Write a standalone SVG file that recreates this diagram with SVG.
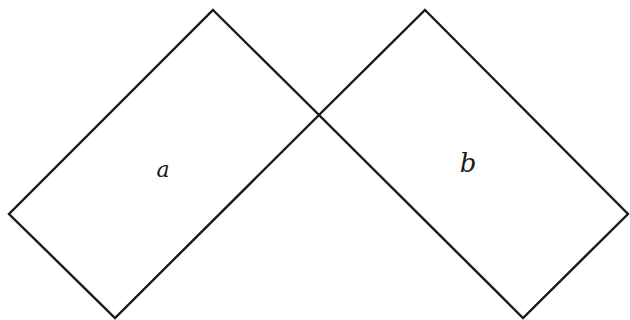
<svg xmlns="http://www.w3.org/2000/svg" width="630" height="320" viewBox="0 0 630 320">
<style>
.shape{fill:none;stroke:#1a1a1a;stroke-width:2.4;stroke-linejoin:miter}
.lbl{font-family:"DejaVu Serif","Liberation Serif",serif;font-style:italic;fill:#1a1a1a;text-anchor:middle}
</style>
<rect width="630" height="320" fill="#ffffff"/>
<g id="node-a">
<polygon class="shape" points="213,10 319,115 115,318 9,214"/>
<text class="lbl" x="163" y="177" font-size="22">a</text>
</g>
<g id="node-b">
<polygon class="shape" points="425,10 628,214 523,318 319,115"/>
<text class="lbl" x="468" y="172" font-size="26">b</text>
</g>
<g id="connectors"></g>
</svg>
